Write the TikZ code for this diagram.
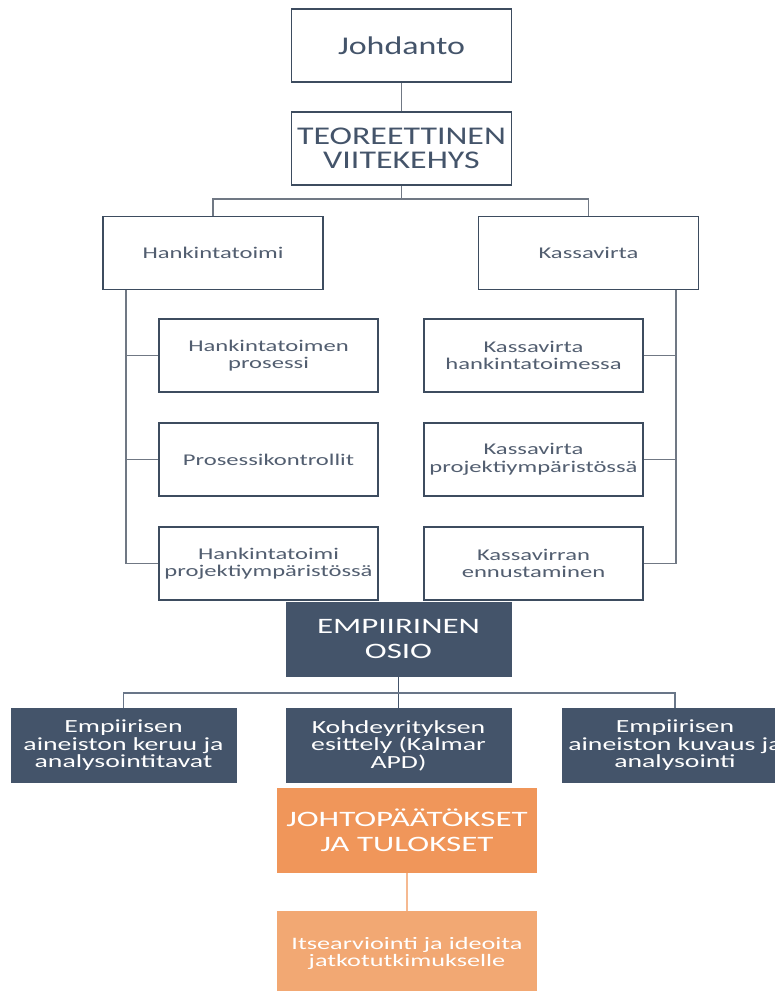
\documentclass[tikz,border=0pt]{standalone}
\usepackage{fontspec}
\setmainfont{Carlito}[FakeStretch=1.5]
\newfontfamily\headfont{Carlito}[FakeStretch=1.33]
\usepackage{tikz}
\usetikzlibrary{positioning,calc}
\definecolor{slate}{RGB}{68,84,106}
\definecolor{slatetxt}{RGB}{82,94,112}
\definecolor{linegray}{RGB}{112,120,132}
\definecolor{orangemain}{RGB}{240,150,90}
\definecolor{orangelight}{RGB}{242,168,115}
\definecolor{orangeline}{RGB}{245,185,145}

\begin{document}
\begin{tikzpicture}[x=1pt,y=-1pt,
  wbox/.style={draw=slate!90!black,line width=1.8pt,fill=white,inner sep=0pt,
    minimum width=220pt,minimum height=73pt,align=center,text=slatetxt,
    font=\fontsize{16.4}{17.5}\selectfont},
  headbox/.style={wbox,text=slate,font=\headfont\fontsize{25.5}{24.5}\selectfont},
  dbox/.style={fill=slate,inner sep=0pt,minimum width=226pt,minimum height=75pt,
    align=center,text=white,font=\fontsize{18.5}{17.5}\selectfont},
  obox/.style={fill=orangemain,inner sep=0pt,minimum width=260pt,minimum height=85pt,
    align=center,text=white,font=\fontsize{22}{25}\selectfont},
  link/.style={draw=linegray,line width=1.8pt},
  olink/.style={draw=orangeline,line width=1.8pt}]
\useasboundingbox (0,0) rectangle (775,991);
\clip (0,0) rectangle (775,991);
% theory part
\node[headbox] (intro) at (401.5,45.5) {Johdanto};
\node[headbox] (theory) at (401.5,148.5) {TEOREETTINEN\\VIITEKEHYS};
\node[wbox] (hank) at (213,253) {Hankintatoimi};
\node[wbox] (kassa) at (588.5,253) {Kassavirta};
\node[wbox,minimum width=219pt] (hank1) at (268.5,355.5) {Hankintatoimen\\prosessi};
\node[wbox,minimum width=219pt] (hank2) at (268.5,459.5) {Prosessikontrollit};
\node[wbox,minimum width=219pt] (hank3) at (268.5,563.5) {Hankintatoimi\\projektiympäristössä};
\node[wbox,minimum width=219pt] (kassa1) at (533.5,355.5) {Kassavirta\\hankintatoimessa};
\node[wbox,minimum width=219pt] (kassa2) at (533.5,459.5) {Kassavirta\\projektiympäristössä};
\node[wbox,minimum width=219pt] (kassa3) at (533.5,563.5) {Kassavirran\\ennustaminen};
\coordinate (split) at (401.5,199);
\coordinate (lspine) at (126,0);
\coordinate (rspine) at (676,0);
\draw[link] (intro.south) -- (theory.north);
\draw[link] (theory.south) -- (split);
\draw[link] (hank.north) -- (hank.north |- split) -- (kassa.north |- split) -- (kassa.north);
\draw[link] (hank.south -| lspine) |- (hank3.west);
\draw[link] (hank1.west) -- (hank1.west -| lspine);
\draw[link] (hank2.west) -- (hank2.west -| lspine);
\draw[link] (kassa.south -| rspine) |- (kassa3.east);
\draw[link] (kassa1.east) -- (kassa1.east -| rspine);
\draw[link] (kassa2.east) -- (kassa2.east -| rspine);
% empirical part
\node[dbox,font=\fontsize{22}{25}\selectfont] (emp) at (398.5,639.5) {EMPIIRINEN\\OSIO};
\node[dbox] (emp1) at (123.5,745.5) {Empiirisen\\aineiston keruu ja\\analysointitavat};
\node[dbox] (emp2) at (398.5,745.5) {Kohdeyrityksen\\esittely (Kalmar\\APD)};
\node[dbox] (emp3) at (675,745.5) {Empiirisen\\aineiston kuvaus ja\\analysointi};
\coordinate (esplit) at (398.5,693);
\draw[link,draw=slate] (emp.south) -- (emp2.north);
\draw[link,draw=slate!80] (emp1.north) |- (esplit) -| (emp3.north);
% conclusions
\node[obox] (concl) at (407,830.5) {JOHTOPÄÄTÖKSET\\JA TULOKSET};
\node[obox,fill=orangelight,font=\fontsize{17.5}{16.5}\selectfont] (self) at (407,953.5) {Itsearviointi ja ideoita\\jatkotutkimukselle};
\draw[olink] (concl.south) -- (self.north);
\end{tikzpicture}
\end{document}
